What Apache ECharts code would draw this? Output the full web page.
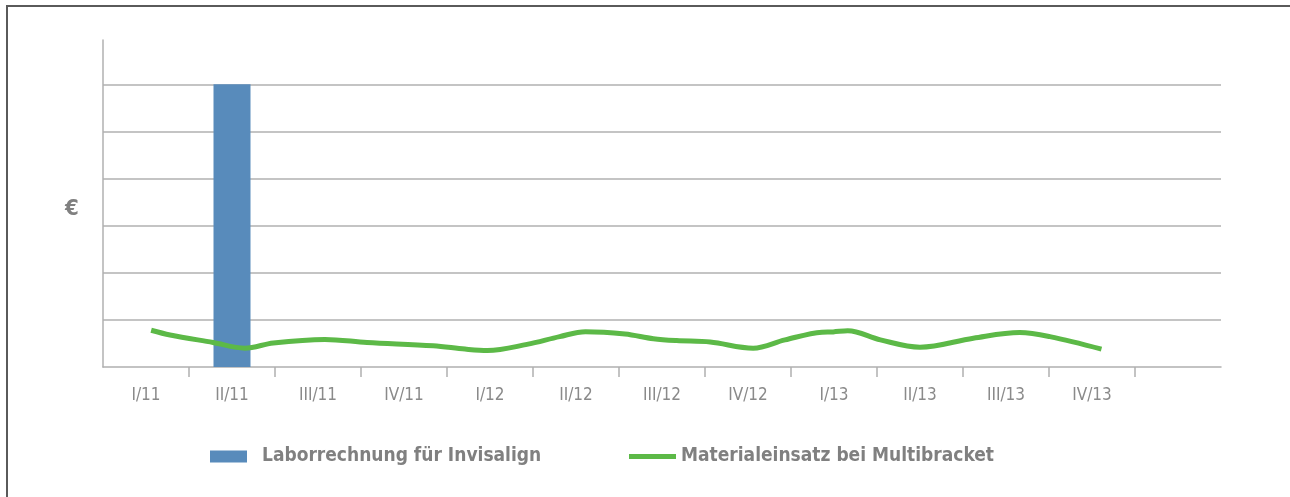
<!DOCTYPE html>
<html>
<head>
<meta charset="utf-8">
<script src="https://cdn.jsdelivr.net/npm/echarts@6/dist/echarts.min.js"></script>
<style>
html,body{margin:0;padding:0;background:#fff;overflow:hidden;}
#chart{position:absolute;left:0;top:0;width:1290px;height:497px;}
</style>
</head>
<body>
<div id="chart"></div>
<script>
// Categories (13th slot is empty in the reference)
const categories = ['I/11','II/11','III/11','IV/11','I/12','II/12','III/12','IV/12','I/13','II/13','III/13','IV/13',''];
// Bar series: Laborrechnung für Invisalign
const barValues = [null, 6, null, null, null, null, null, null, null, null, null, null, null];
// Line series: Materialeinsatz bei Multibracket (position in quarters from axis start, value)
const lineXs = [0.56, 0.78, 1.28, 1.65, 1.98, 2.58, 3.07, 3.84, 4.21, 4.47, 4.93, 5.31, 5.61, 6.07, 6.40, 6.67, 7.06, 7.56, 7.93, 8.36, 8.49, 8.66, 9.04, 9.50, 10.12, 10.66, 11.01, 11.61];
const lineYs = [0.78, 0.68, 0.52, 0.40, 0.51, 0.585, 0.52, 0.45, 0.38, 0.35, 0.48, 0.645, 0.75, 0.70, 0.60, 0.56, 0.53, 0.40, 0.575, 0.74, 0.745, 0.77, 0.575, 0.42, 0.61, 0.73, 0.645, 0.38];
const seriesNames = ['Laborrechnung für Invisalign', 'Materialeinsatz bei Multibracket'];
const unitLabel = '€';

const lineData = lineXs.map((x, i) => [x, lineYs[i]]);
const FONT = "'Liberation Sans Narrow', 'DejaVu Sans Condensed', sans-serif";
const GRAY = '#b0b0b0';

const chart = echarts.init(document.getElementById('chart'), null, {renderer: 'canvas'});
chart.setOption({
  backgroundColor: '#ffffff',
  animation: false,
  title: {
    text: unitLabel,
    left: 60, top: 193,
    textStyle: {color: '#808080', fontFamily: FONT, fontWeight: 'bold', fontSize: 22}
  },
  graphic: [{
    type: 'polyline',
    shape: {points: [[7, 520], [7, 6], [1300, 6]]},
    style: {stroke: '#5a5a5a', lineWidth: 2, fill: null},
    silent: true
  }],
  grid: {left: 103, right: 69, top: 40, bottom: 130, containLabel: false},
  legend: [
    {
      data: [{name: seriesNames[0], icon: 'rect'}],
      left: 205, top: 442,
      itemWidth: 37, itemHeight: 12,
      textStyle: {fontFamily: FONT, fontWeight: 'bold', fontSize: 19, color: '#808080', padding: [0,0,0,10]}
    },
    {
      data: [{name: seriesNames[1], icon: 'rect', itemStyle: {color: '#5cb947'}}],
      left: 624, top: 442,
      itemWidth: 47, itemHeight: 5,
      textStyle: {fontFamily: FONT, fontWeight: 'bold', fontSize: 19, color: '#808080'}
    }
  ],
  xAxis: [
    {
      type: 'category',
      data: categories,
      boundaryGap: true,
      axisLine: {show: true, lineStyle: {color: GRAY, width: 1.5}},
      axisTick: {show: false},
      axisLabel: {color: '#8a8a8a', fontFamily: FONT, fontSize: 17, margin: 20, interval: 0},
      splitLine: {show: false}
    },
    {
      type: 'value',
      min: 0, max: 13, interval: 13,
      position: 'bottom',
      axisLine: {show: false},
      axisTick: {show: false},
      axisLabel: {show: false},
      splitLine: {show: false},
      minorTick: {show: true, splitNumber: 13, length: 10, lineStyle: {color: GRAY, width: 1.5}},
      minorSplitLine: {show: false}
    }
  ],
  yAxis: {
    type: 'value',
    min: 0, max: 6.94, interval: 1,
    axisLine: {show: true, lineStyle: {color: GRAY, width: 1.5}},
    axisTick: {show: false},
    axisLabel: {show: false},
    splitLine: {show: true, showMaxLine: false, showMinLine: false, lineStyle: {color: GRAY, width: 1.5}}
  },
  series: [
    {
      name: seriesNames[0],
      type: 'bar',
      xAxisIndex: 0,
      data: barValues,
      barWidth: 37,
      itemStyle: {color: '#588bbb'}
    },
    {
      name: seriesNames[1],
      type: 'line',
      xAxisIndex: 1,
      data: lineData,
      smooth: 0.35,
      symbol: 'none',
      showSymbol: false,
      lineStyle: {color: '#5cb947', width: 5},
      itemStyle: {color: '#5cb947'}
    }
  ]
});
</script>
</body>
</html>
